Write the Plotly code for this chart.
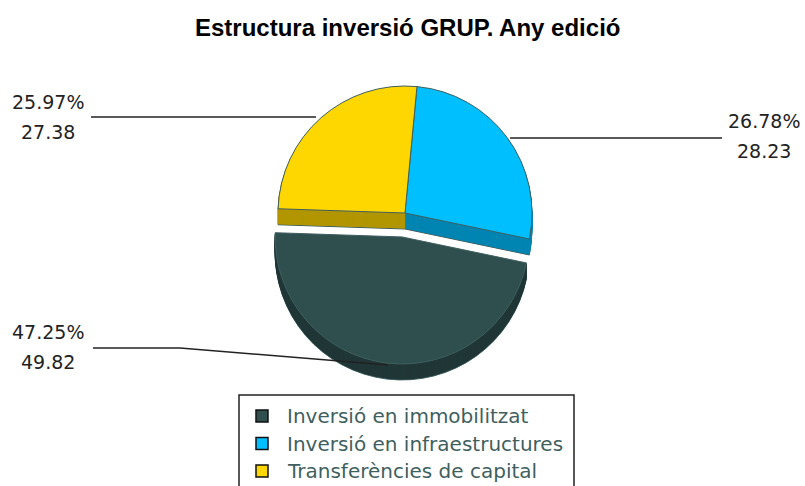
import plotly.graph_objects as go

title = "Estructura inversió GRUP. Any edició"
categories = ["Inversió en immobilitzat", "Inversió en infraestructures", "Transferències de capital"]
values = [49.82, 28.23, 27.38]
percents = ["47.25%", "26.78%", "25.97%"]
top_colors = ["#2F4F4F", "#00BFFF", "#FFD700"]
side_colors = ["#213737", "#0085B2", "#B29600"]

W, H = 805, 486
CX, CY, R = 405, 213, 127
PULL = 0.19
DEPTH = 16
ROTATION = 101.8  # clockwise start of the first slice, from 12 o'clock
OUTLINE = "#3F5F5F"
half = R * (1 + PULL)


def pie(dy, colors, line_color):
    cy = CY + dy
    return go.Pie(
        labels=categories, values=values, sort=False, direction="counterclockwise",
        rotation=ROTATION, pull=[PULL, 0, 0], textinfo="none", hoverinfo="label+value+percent",
        marker=dict(colors=colors, line=dict(color=line_color, width=1)),
        domain=dict(x=[(CX - half) / W, (CX + half) / W],
                    y=[1 - (cy + half) / H, 1 - (cy - half) / H]),
        showlegend=False,
    )


traces = [pie(DEPTH, side_colors, OUTLINE)]
for dy in range(DEPTH - 1, 0, -1):
    traces.append(pie(dy, side_colors, side_colors))
traces.append(pie(0, top_colors, OUTLINE))
fig = go.Figure(traces)


def px(x):
    return x / W


def py(y):
    return 1 - y / H


def seg(x0, y0, x1, y1, color="#222222", width=1.5):
    return dict(type="line", xref="paper", yref="paper", x0=px(x0), y0=py(y0), x1=px(x1), y1=py(y1),
                line=dict(color=color, width=width))


shapes = [
    seg(91, 117, 316, 117),
    seg(510, 138, 722, 138),
    seg(93, 348, 180, 348),
    seg(180, 348, 388, 365),
    dict(type="rect", xref="paper", yref="paper", x0=px(239), y0=py(395), x1=px(574), y1=py(520),
         line=dict(color="#222222", width=1.5), fillcolor="white", layer="below"),
]

annotations = [dict(text="<b>" + title + "</b>", x=px(407), y=py(27), showarrow=False,
                    xref="paper", yref="paper", xanchor="center", yanchor="middle",
                    font=dict(family="Liberation Sans", size=24, color="black"))]

label_pos = [(48, 332, 362), (764, 121, 151), (48, 102, 132)]
for pct, val, (x, y1, y2) in zip(percents, values, label_pos):
    for txt, y in ((pct, y1), (f"{val:.2f}", y2)):
        annotations.append(dict(text=txt, x=px(x), y=py(y), showarrow=False, xref="paper", yref="paper",
                                xanchor="center", yanchor="middle",
                                font=dict(family="DejaVu Sans", size=19, color="#222222")))

for i, (cat, col) in enumerate(zip(categories, top_colors)):
    yc = 416 + i * 27.5
    shapes.append(dict(type="rect", xref="paper", yref="paper", x0=px(256), x1=px(268),
                       y0=py(yc - 6), y1=py(yc + 6), fillcolor=col, line=dict(color="#111111", width=1.5)))
    annotations.append(dict(text=cat, x=px(285), y=py(yc), showarrow=False, xref="paper", yref="paper",
                            xanchor="left", yanchor="middle",
                            font=dict(family="DejaVu Sans", size=20, color="#3F5F5F")))

fig.update_layout(width=W, height=H, margin=dict(l=0, r=0, t=0, b=0), paper_bgcolor="white",
                  showlegend=False, shapes=shapes, annotations=annotations)
fig.write_html("out.html", config=dict(displayModeBar=False),
               post_script="document.body.style.margin='0';document.body.style.overflow='hidden';")
